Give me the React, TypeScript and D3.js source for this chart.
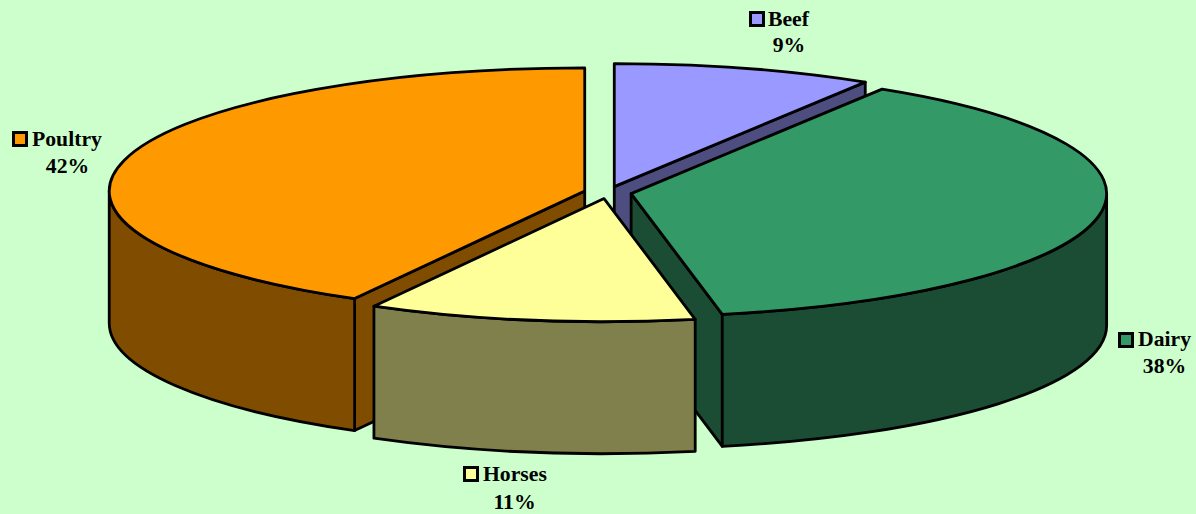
import * as d3 from "d3";

const WIDTH = 1196;
const HEIGHT = 514;

const categories = ["Beef", "Dairy", "Horses", "Poultry"];
const shares = [8.85, 38.08, 11.11, 41.96];
const topColors = ["#9999FF", "#339966", "#FFFF99", "#FF9900"];
const sideColors = ["#4D4D80", "#1A4D33", "#80804D", "#804D00"];

// legend keys are placed by hand, like the office chart they come from
const LABEL_POS = {
  Beef: { keyX: 749, keyY: 11, textX: 768, y1: 26, pctX: 789, y2: 52 },
  Dairy: { keyX: 1118, keyY: 332, textX: 1138, y1: 346, pctX: 1164.5, y2: 373 },
  Horses: { keyX: 463, keyY: 466, textX: 483, y1: 481, pctX: 514.5, y2: 509 },
  Poultry: { keyX: 12, keyY: 131, textX: 32, y1: 146, pctX: 67.5, y2: 173 },
};

const CENTER = { x: 607.75, y: 192.5 };
const RX = 475.5;
const RY = 123;
const DEPTH = 132;
const EXPLODE = 0.05;
const STROKE = 2.8;

// which edge of the slice shows a cut face towards the viewer
const CUT_EDGE = { Beef: "end", Dairy: "end", Poultry: "start" };

// projected point on the tilted ellipse, angle is clockwise from 12 o'clock
const px = (cx: number, a: number) => cx + RX * Math.sin(a);
const py = (cy: number, a: number) => cy - RY * Math.cos(a);

function App() {
  const pie = d3
    .pie<number>()
    .sort(null)
    .value((d) => d);
  const arcs = pie(shares);

  const color = d3.scaleOrdinal<string>().domain(categories).range(topColors);
  const side = d3.scaleOrdinal<string>().domain(categories).range(sideColors);

  const slices = arcs.map((arc, i) => {
    const mid = (arc.startAngle + arc.endAngle) / 2;
    const cx = CENTER.x + EXPLODE * RX * Math.sin(mid);
    const cy = CENTER.y - EXPLODE * RY * Math.cos(mid);
    return { name: categories[i], start: arc.startAngle, end: arc.endAngle, cx, cy };
  });

  // painter's order: back slices first, horses sits in front of the dairy cut
  const order = ["Beef", "Poultry", "Dairy", "Horses"];
  const shapes = order.map((name) => {
    const s = slices.find((d) => d.name === name)!;
    const { cx, cy, start, end } = s;
    const large = end - start > Math.PI ? 1 : 0;

    const top = `M${cx},${cy}L${px(cx, start)},${py(cy, start)}A${RX},${RY} 0 ${large} 1 ${px(cx, end)},${py(cy, end)}Z`;

    // outer wall only exists on the front half of the ellipse
    const a0 = Math.max(start, Math.PI / 2);
    const a1 = Math.min(end, (3 * Math.PI) / 2);
    let wall = null;
    if (a1 > a0) {
      const d =
        `M${px(cx, a0)},${py(cy, a0)}A${RX},${RY} 0 0 1 ${px(cx, a1)},${py(cy, a1)}` +
        `L${px(cx, a1)},${py(cy, a1) + DEPTH}A${RX},${RY} 0 0 0 ${px(cx, a0)},${py(cy, a0) + DEPTH}Z`;
      wall = <path d={d} fill={side(name)} stroke="#000" strokeWidth={STROKE} strokeLinejoin="round" />;
    }

    const edge = CUT_EDGE[name as keyof typeof CUT_EDGE];
    const cutAngle = edge === "end" ? end : start;
    const cut = !edge ? null : (
      <path
        d={`M${cx},${cy}L${px(cx, cutAngle)},${py(cy, cutAngle)}l0,${DEPTH}L${cx},${cy + DEPTH}Z`}
        fill={side(name)}
        stroke="#000"
        strokeWidth={STROKE}
        strokeLinejoin="round"
      />
    );

    return (
      <g key={name}>
        {cut}
        {wall}
        <path d={top} fill={color(name)} stroke="#000" strokeWidth={STROKE} strokeLinejoin="round" />
      </g>
    );
  });

  const labels = categories.map((name, i) => {
    const p = LABEL_POS[name as keyof typeof LABEL_POS];
    return (
      <g key={name}>
        <rect x={p.keyX + 1.5} y={p.keyY + 1.5} width={13} height={13} fill={color(name)} stroke="#000" strokeWidth={3} />
        <text x={p.textX} y={p.y1}>
          {name}
        </text>
        <text x={p.pctX} y={p.y2} textAnchor="middle">
          {Math.round(shares[i])}%
        </text>
      </g>
    );
  });

  return (
    <svg
      width={WIDTH}
      height={HEIGHT}
      style={{ position: "absolute", left: 0, top: 0 }}
      fontFamily="'Liberation Serif', serif"
      fontWeight="bold"
      fontSize={21.7}
    >
      <rect width={WIDTH} height={HEIGHT} fill="#CCFFCC" />
      {shapes}
      {labels}
    </svg>
  );
}

export default App;
